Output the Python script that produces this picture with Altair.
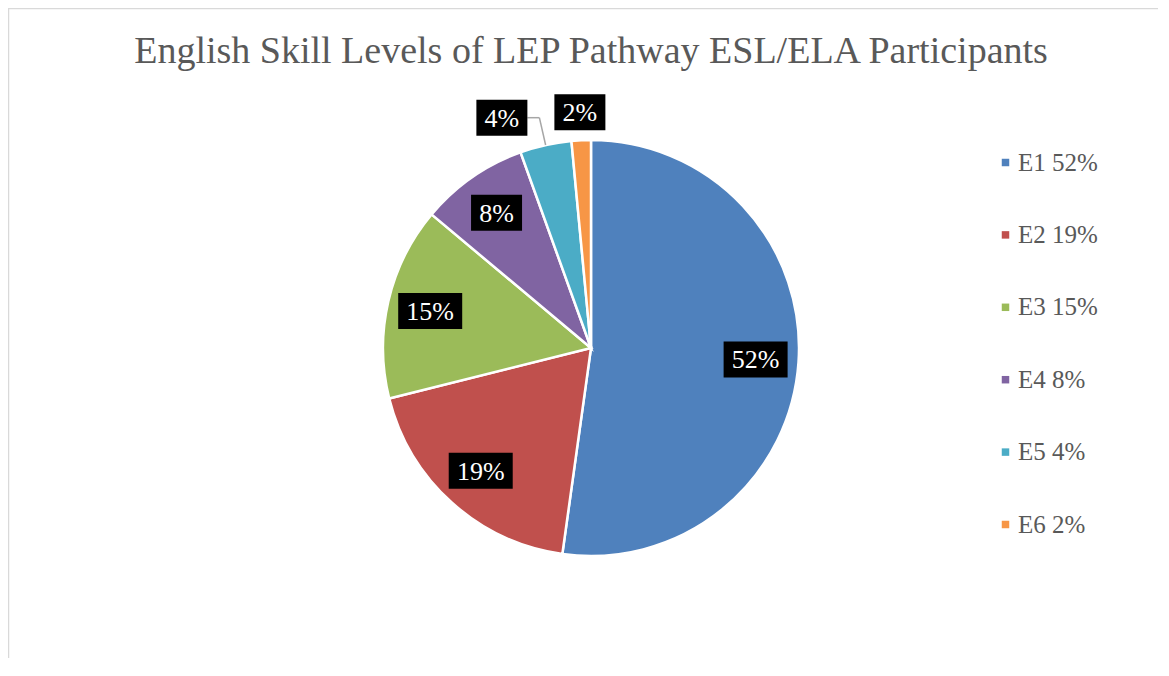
import altair as alt
import pandas as pd

categories = ["E1", "E2", "E3", "E4", "E5", "E6"]
values = [52.2, 18.9, 15.0, 8.4, 4.0, 1.5]
labels = ["52%", "19%", "15%", "8%", "4%", "2%"]
colors = ["#4F81BD", "#C0504D", "#9BBB59", "#8064A2", "#4BACC6", "#F79646"]
title_text = "English Skill Levels of LEP Pathway ESL/ELA Participants"

legend_names = [f"{c} {l}" for c, l in zip(categories, labels)]
df = pd.DataFrame({
    "cat": categories,
    "value": values,
    "label": labels,
    "legend": legend_names,
    "order": list(range(len(categories))),
})

W, H = 1150, 650
CX, CY, R = 583, 340, 208
R_IN, R_OUT = 165, 236
FONT = "Liberation Serif"
GRAY = "#595959"

base = alt.Chart(df)

pie = base.mark_arc(radius=R, stroke="white", strokeWidth=2.5).encode(
    theta=alt.Theta("value:Q", stack=True),
    color=alt.Color(
        "legend:N",
        scale=alt.Scale(domain=legend_names, range=colors),
        legend=alt.Legend(
            orient="none", legendX=985, legendY=142, title=None,
            symbolType="square", symbolSize=56, symbolStrokeWidth=0,
            labelFont=FONT, labelFontSize=25, labelColor=GRAY,
            rowPadding=46.4, labelOffset=0, padding=0,
        ),
    ),
    order=alt.Order("order:Q"),
    x=alt.value(CX),
    y=alt.value(CY),
)

lab = (
    base.transform_joinaggregate(total="sum(value)")
    .transform_window(cum="sum(value)", sort=[alt.SortField("order")], frame=[None, 0])
    .transform_calculate(
        mid="2*PI*(datum.cum - datum.value/2)/datum.total",
        inside="datum.value >= 5",
        w="13*length(datum.label) + 25",
    )
    .transform_calculate(r=f"datum.inside ? {R_IN} : {R_OUT}")
    .transform_calculate(
        x0=f"{CX} + datum.r*sin(datum.mid)",
        y0=f"{CY} - datum.r*cos(datum.mid)",
        px=f"{CX} + {R}*sin(datum.mid)",
        py=f"{CY} - {R}*cos(datum.mid)",
    )
    .transform_window(nx="lead(x0)", nw="lead(w)", nv="lead(value)", sort=[alt.SortField("order")])
    .transform_calculate(
        lx="(!datum.inside && isValid(datum.nx) && datum.nv < 5) ? min(datum.x0, datum.nx - datum.nw/2 - datum.w/2 - 27) : datum.x0",
        ly="datum.y0",
    )
    .transform_calculate(
        shifted="datum.lx < datum.x0 - 1",
        bx1="datum.lx - datum.w/2",
        bx2="datum.lx + datum.w/2",
        by1="datum.ly - 18",
        by2="datum.ly + 18",
        ex="datum.lx + datum.w/2 + 12",
    )
)

boxes = lab.mark_rect(color="black").encode(
    x=alt.X("bx1:Q", scale=None, axis=None),
    x2="bx2:Q",
    y=alt.Y("by1:Q", scale=None, axis=None),
    y2="by2:Q",
)

texts = lab.mark_text(font=FONT, fontSize=26, color="white", align="center", baseline="middle", dy=1).encode(
    x=alt.X("lx:Q", scale=None, axis=None),
    y=alt.Y("ly:Q", scale=None, axis=None),
    text="label:N",
)

lead1 = lab.transform_filter("datum.shifted").mark_rule(color="#a6a6a6", strokeWidth=1.5).encode(
    x=alt.X("bx2:Q", scale=None, axis=None),
    x2="ex:Q",
    y=alt.Y("ly:Q", scale=None, axis=None),
)
lead2 = lab.transform_filter("datum.shifted").mark_rule(color="#a6a6a6", strokeWidth=1.5).encode(
    x=alt.X("ex:Q", scale=None, axis=None),
    x2="px:Q",
    y=alt.Y("ly:Q", scale=None, axis=None),
    y2="py:Q",
)

one = pd.DataFrame({"t": [title_text]})
border_top = alt.Chart(one).mark_rule(color="#d9d9d9", strokeWidth=1.5).encode(
    x=alt.value(0), x2=alt.value(W), y=alt.value(0.5)
)
border_left = alt.Chart(one).mark_rule(color="#d9d9d9", strokeWidth=1.5).encode(
    x=alt.value(0.5), y=alt.value(0), y2=alt.value(H)
)
title = alt.Chart(one).mark_text(font=FONT, fontSize=38, color=GRAY, align="center", baseline="alphabetic").encode(
    x=alt.value(CX), y=alt.value(55), text="t:N"
)

chart = alt.layer(border_top, border_left, pie, lead1, lead2, boxes, texts, title).properties(
    width=W, height=H, autosize=alt.AutoSizeParams(type="none"), padding=0, background="white"
).configure_view(stroke=None)

chart.save("out.html", embed_options={"renderer": "svg", "actions": False})
